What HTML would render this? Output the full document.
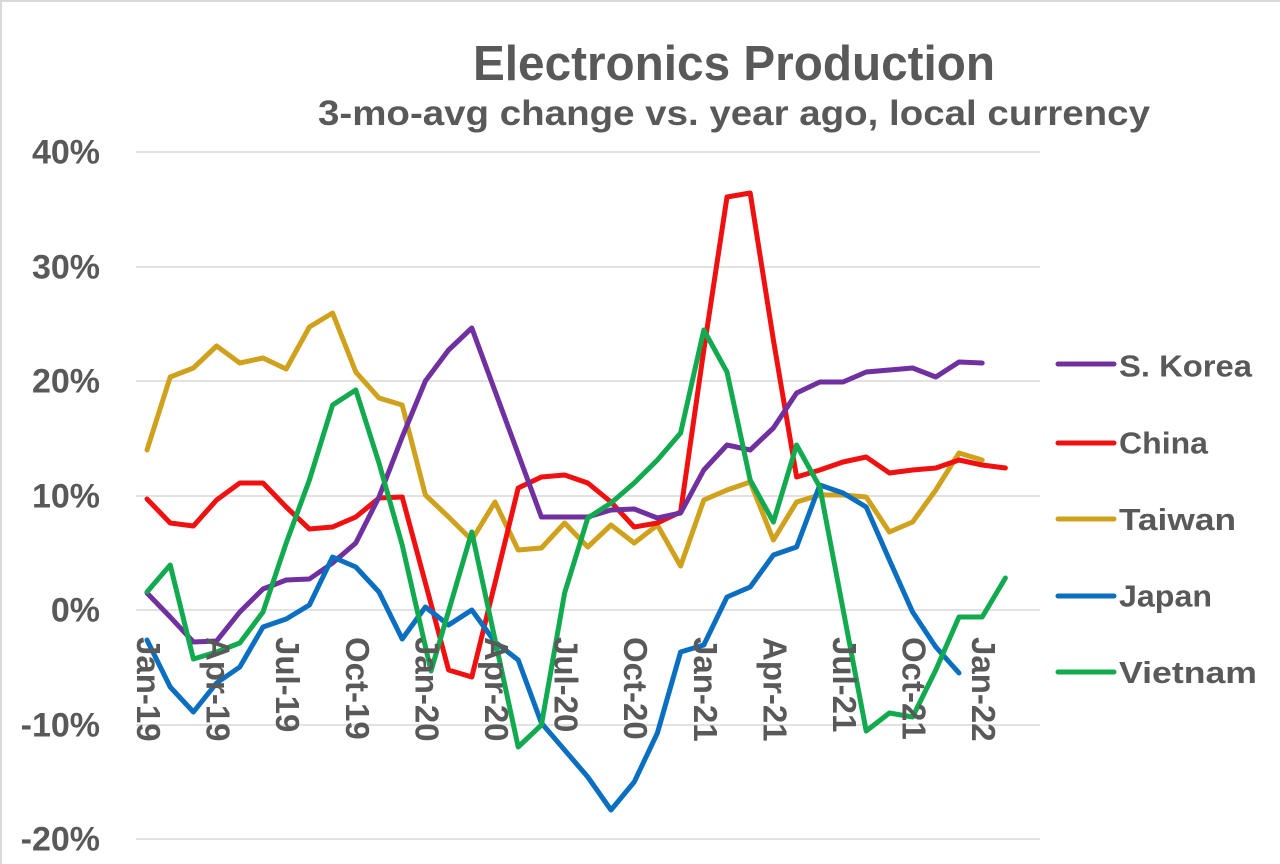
<!DOCTYPE html>
<html>
<head>
<meta charset="utf-8">
<style>
  html,body{margin:0;padding:0;background:#fff;}
  svg{display:block;}
  text{font-family:"Liberation Sans",Arial,sans-serif;fill:#595959;font-weight:bold;}
</style>
</head>
<body>
<svg width="1280" height="864" viewBox="0 0 1280 864" xmlns="http://www.w3.org/2000/svg">
  <rect x="0" y="0" width="1280" height="864" fill="#fff"/>
  <line x1="1" y1="0" x2="1" y2="864" stroke="#d9d9d9" stroke-width="2"/>
  <line x1="0" y1="1" x2="1280" y2="1" stroke="#d9d9d9" stroke-width="2"/>

  <!-- Titles -->
  <text x="473" y="80" font-size="49" textLength="522" lengthAdjust="spacingAndGlyphs">Electronics Production</text>
  <text x="318" y="125" font-size="35" textLength="832" lengthAdjust="spacingAndGlyphs">3-mo-avg change vs. year ago, local currency</text>

  <!-- Gridlines -->
  <g stroke="#d9d9d9" stroke-width="1.5">
    <line x1="136" y1="152" x2="1040" y2="152"/>
    <line x1="136" y1="267" x2="1040" y2="267"/>
    <line x1="136" y1="381" x2="1040" y2="381"/>
    <line x1="136" y1="496" x2="1040" y2="496"/>
    <line x1="136" y1="610" x2="1040" y2="610"/>
    <line x1="136" y1="725" x2="1040" y2="725"/>
    <line x1="136" y1="839" x2="1040" y2="839"/>
  </g>

  <!-- Y axis labels -->
  <g font-size="34" text-anchor="end">
    <text x="100" y="163.5">40%</text>
    <text x="100" y="278.5">30%</text>
    <text x="100" y="392.5">20%</text>
    <text x="100" y="507.5">10%</text>
    <text x="100" y="621.5">0%</text>
    <text x="100" y="736.5">-10%</text>
    <text x="100" y="850.5">-20%</text>
  </g>

  <!-- Series -->
  <g fill="none" stroke-width="5" stroke-linejoin="round" stroke-linecap="round">
    <!-- Taiwan -->
    <polyline stroke="#CFA11C" points="147,450 170.2,377 193.4,368 216.6,346 239.8,363 263,358 286.2,369 309.4,327 332.6,313 355.8,372 379,398 402.2,405 425.4,495 448.6,517 471.8,540 495,502 518.2,550 541.4,548 564.6,523 587.8,547 611,525 634.2,543 657.4,525 680.6,566 703.8,500 727,490 750.2,482 773.4,540 796.6,502 819.8,495 843,495 866.2,497 889.4,532 912.6,522 935.8,490 959,453 982.2,460"/>
    <!-- China -->
    <polyline stroke="#F01010" points="147,499 170.2,523 193.4,526 216.6,500 239.8,483 263,483 286.2,507 309.4,529 332.6,527 355.8,517 379,498 402.2,497 425.4,583 448.6,670 471.8,677 495,583 518.2,488 541.4,477 564.6,475 587.8,483 611,502 634.2,527 657.4,523 680.6,512 703.8,350 727,197 750.2,193 773.4,340 796.6,477 819.8,470 843,462 866.2,457 889.4,473 912.6,470 935.8,468 959,460 982.2,465 1005.4,468"/>
    <!-- S. Korea -->
    <polyline stroke="#7030A0" points="147,593 170.2,617 193.4,642 216.6,641 239.8,612 263,589 286.2,580 309.4,579 332.6,563 355.8,543 379,497 402.2,437 425.4,381 448.6,350 471.8,328 495,391 518.2,454 541.4,517 564.6,517 587.8,517 611,510 634.2,509 657.4,518 680.6,513 703.8,470 727,445 750.2,450 773.4,428 796.6,393 819.8,382 843,382 866.2,372 889.4,370 912.6,368 935.8,377 959,362 982.2,363"/>
    <!-- Japan -->
    <polyline stroke="#0A6FC0" points="147,640 170.2,687 193.4,712 216.6,683 239.8,667 263,627 286.2,619 309.4,605 332.6,557 355.8,567 379,592 402.2,639 425.4,607 448.6,625 471.8,610 495,642 518.2,660 541.4,723 564.6,750 587.8,777 611,810 634.2,782 657.4,733 680.6,652 703.8,645 727,597 750.2,587 773.4,555 796.6,547 819.8,485 843,493 866.2,507 889.4,560 912.6,612 935.8,647 959,673"/>
    <!-- Vietnam -->
    <polyline stroke="#12AA4E" points="147,592 170.2,565 193.4,659 216.6,652 239.8,643 263,612 286.2,543 309.4,480 332.6,405 355.8,390 379,463 402.2,545 431,671 471.8,532 518.2,747 541.4,725 564.6,593 587.8,518 611,503 634.2,483 657.4,460 680.6,433 703.8,330 727,372 750.2,480 773.4,522 796.6,445 819.8,487 866.2,731 889.4,713 912.6,717 935.8,670 959,617 982.2,617 1005.4,578"/>
  </g>

  <!-- X axis labels (rotated 90deg clockwise) -->
  <g font-size="33">
    <text transform="translate(137,637) rotate(90)">Jan-19</text>
    <text transform="translate(206.6,637) rotate(90)">Apr-19</text>
    <text transform="translate(276.2,637) rotate(90)">Jul-19</text>
    <text transform="translate(345.8,637) rotate(90)">Oct-19</text>
    <text transform="translate(415.4,637) rotate(90)">Jan-20</text>
    <text transform="translate(485,637) rotate(90)">Apr-20</text>
    <text transform="translate(554.6,637) rotate(90)">Jul-20</text>
    <text transform="translate(624.2,637) rotate(90)">Oct-20</text>
    <text transform="translate(693.8,637) rotate(90)">Jan-21</text>
    <text transform="translate(763.4,637) rotate(90)">Apr-21</text>
    <text transform="translate(833,637) rotate(90)">Jul-21</text>
    <text transform="translate(902.6,637) rotate(90)">Oct-21</text>
    <text transform="translate(972.2,637) rotate(90)">Jan-22</text>
  </g>

  <!-- Legend -->
  <g stroke-width="5" stroke-linecap="round">
    <line x1="1058" y1="364" x2="1114" y2="364" stroke="#7030A0"/>
    <line x1="1058" y1="443" x2="1114" y2="443" stroke="#F01010"/>
    <line x1="1058" y1="519" x2="1114" y2="519" stroke="#CFA11C"/>
    <line x1="1058" y1="596" x2="1114" y2="596" stroke="#0A6FC0"/>
    <line x1="1058" y1="672" x2="1114" y2="672" stroke="#12AA4E"/>
  </g>
  <g font-size="31">
    <text x="1119" y="376.5" textLength="133" lengthAdjust="spacingAndGlyphs">S. Korea</text>
    <text x="1119" y="453.5" textLength="89" lengthAdjust="spacingAndGlyphs">China</text>
    <text x="1119" y="530" textLength="117" lengthAdjust="spacingAndGlyphs">Taiwan</text>
    <text x="1119" y="606.5" textLength="93" lengthAdjust="spacingAndGlyphs">Japan</text>
    <text x="1119" y="683" textLength="138" lengthAdjust="spacingAndGlyphs">Vietnam</text>
  </g>
</svg>
</body>
</html>
